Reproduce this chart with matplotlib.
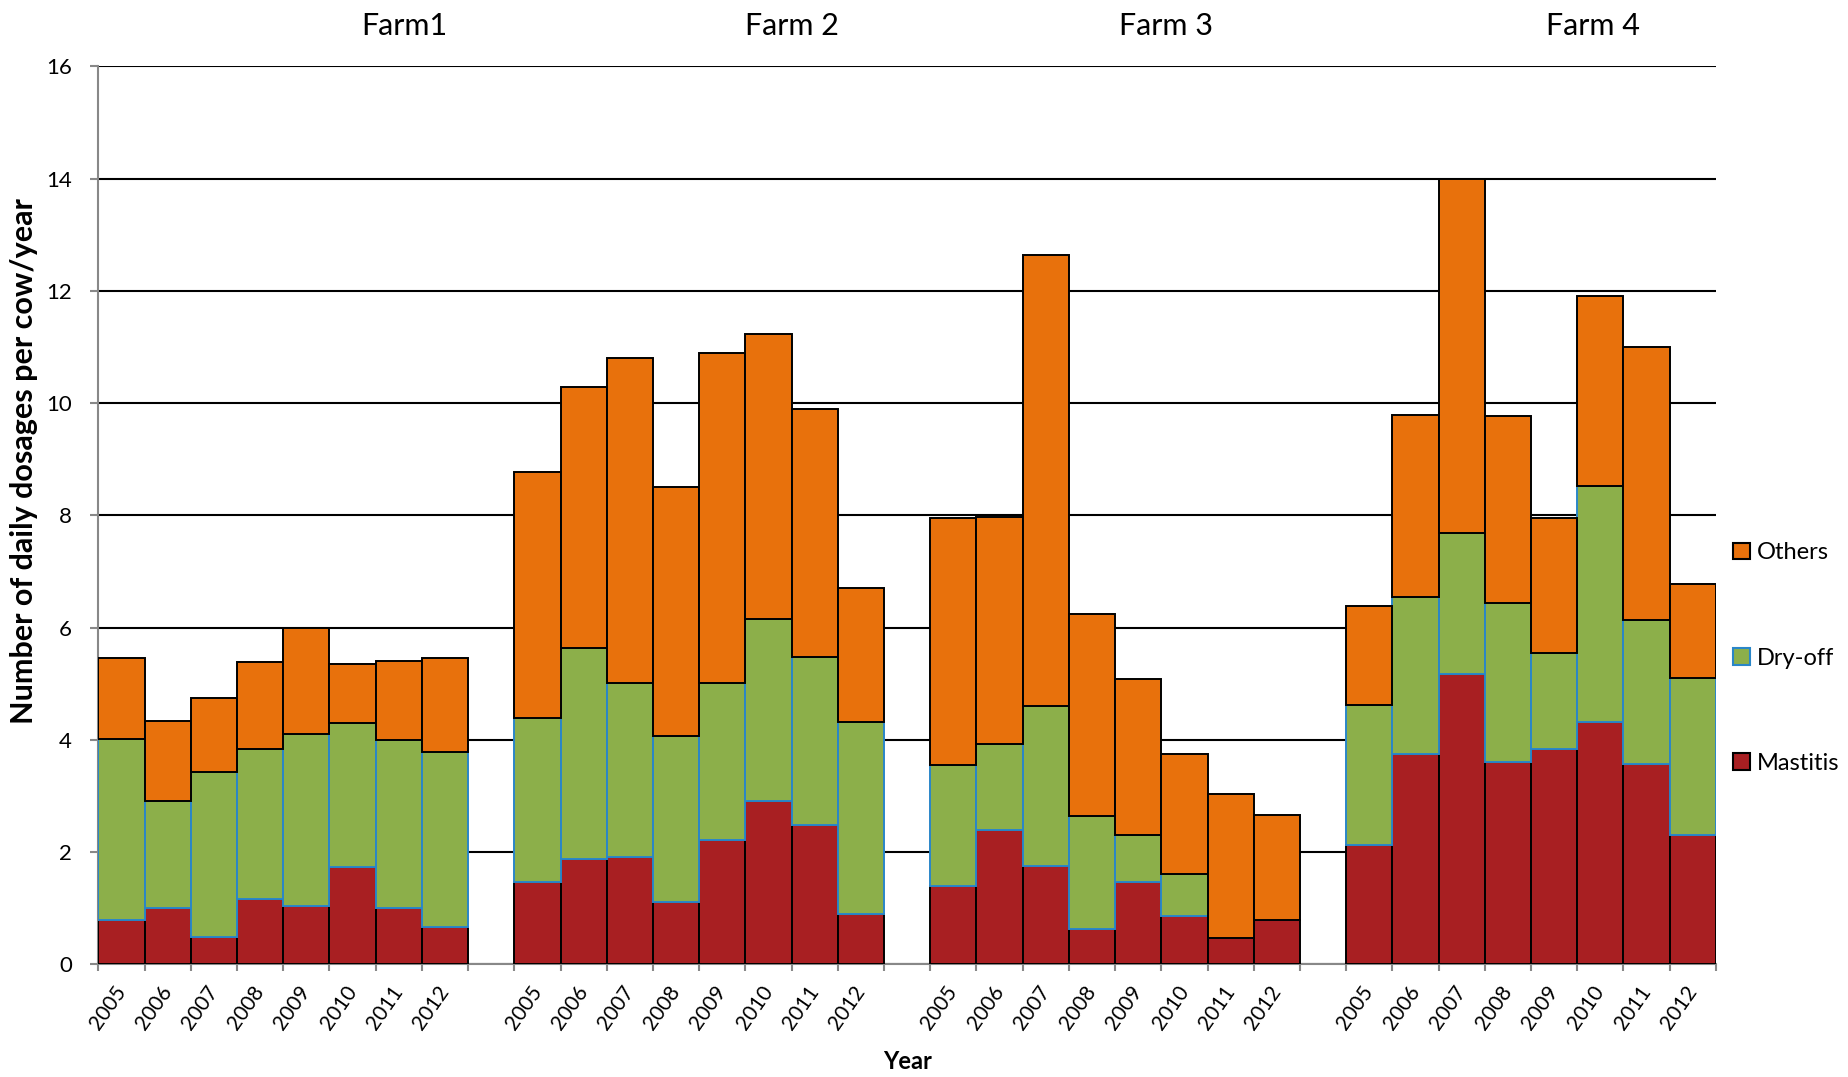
import numpy as np
import matplotlib
matplotlib.use("Agg")
from matplotlib import pyplot as plt
from matplotlib.patches import Patch

plt.rcParams['font.family'] = ['Lato', 'DejaVu Sans']

farms = ["Farm1", "Farm 2", "Farm 3", "Farm 4"]
years = ["2005", "2006", "2007", "2008", "2009", "2010", "2011", "2012"]

# daily dosages per cow per year, one row per farm
mastitis = [
    [0.80, 1.00, 0.49, 1.17, 1.04, 1.73, 1.00, 0.66],
    [1.46, 1.87, 1.92, 1.12, 2.22, 2.91, 2.48, 0.89],
    [1.39, 2.39, 1.76, 0.63, 1.46, 0.86, 0.48, 0.80],
    [2.12, 3.74, 5.18, 3.61, 3.83, 4.31, 3.57, 2.31],
]
dryoff = [
    [3.21, 1.92, 2.93, 2.67, 3.06, 2.57, 2.99, 3.12],
    [2.93, 3.76, 3.09, 2.95, 2.79, 3.24, 3.00, 3.42],
    [2.17, 1.54, 2.85, 2.01, 0.85, 0.75, 0.00, 0.00],
    [2.51, 2.80, 2.51, 2.82, 1.71, 4.22, 2.56, 2.80],
]
others = [
    [1.44, 1.41, 1.33, 1.54, 1.90, 1.06, 1.41, 1.67],
    [4.38, 4.65, 5.79, 4.44, 5.89, 5.08, 4.42, 2.39],
    [4.39, 4.04, 8.02, 3.61, 2.77, 2.13, 2.56, 1.86],
    [1.76, 3.25, 6.31, 3.34, 2.41, 3.37, 4.87, 1.67],
]

c_mast = "#a81f22"
c_dry = "#8caf4a"
c_oth = "#e8710c"
c_dry_edge = "#2a86c8"
c_axis = "#888888"

fig = plt.figure(figsize=(18.49, 10.77), dpi=100)
ax = fig.add_axes([0.0532, 0.1045, 0.8748, 0.834])

n = len(years)
xpos = []
labels = []
for f in range(len(farms)):
    x = np.arange(n) + f * (n + 1) + 0.5
    m = np.array(mastitis[f])
    d = np.array(dryoff[f])
    o = np.array(others[f])
    ax.bar(x, m, width=1.0, color=c_mast, edgecolor="black", linewidth=1.4, zorder=3)
    ax.bar(x, d, width=1.0, bottom=m, color=c_dry, edgecolor=c_dry_edge, linewidth=1.4, zorder=3)
    ax.bar(x, o, width=1.0, bottom=m + d, color=c_oth, edgecolor="black", linewidth=1.4, zorder=3)
    xpos.extend(x)
    labels.extend(years)

total_slots = len(farms) * (n + 1) - 1
ax.set_xlim(0, total_slots)
ax.set_ylim(0, 16)
ax.set_yticks(np.arange(0, 17, 2))
ax.yaxis.grid(True, color="black", linewidth=1.5, zorder=0)
ax.tick_params(axis="y", labelsize=16, color=c_axis, length=6, width=1.5, pad=13)

# ticks on the slot edges, year labels in the slot centres
ax.set_xticks(np.arange(0, total_slots + 1))
ax.set_xticklabels([])
ax.set_xticks(xpos, minor=True)
ax.set_xticklabels(labels, minor=True, rotation=55, ha="right", va="center",
                   rotation_mode="anchor", fontsize=15)
ax.tick_params(axis="x", which="major", color=c_axis, length=5, width=1.5)
ax.tick_params(axis="x", which="minor", length=0, pad=17)

for s in ["top", "right"]:
    ax.spines[s].set_visible(False)
for s in ["left", "bottom"]:
    ax.spines[s].set_color(c_axis)
    ax.spines[s].set_linewidth(1.5)

ax.text(-0.046, 0.56, "Number of daily dosages per cow/year", transform=ax.transAxes,
        rotation=90, ha="center", va="center", fontsize=22, fontweight="bold")
ax.text(17.5, -0.1075, "Year", transform=ax.get_xaxis_transform(), ha="center", va="center",
        fontsize=17, fontweight="bold")

farm_x = [6.62, 15.0, 23.1, 32.33]
for name, fx in zip(farms, farm_x):
    ax.text(fx, 1.0445, name, transform=ax.get_xaxis_transform(), ha="center", va="center", fontsize=22)

handles = [
    Patch(facecolor=c_oth, edgecolor="black", linewidth=1.5, label="Others"),
    Patch(facecolor=c_dry, edgecolor=c_dry_edge, linewidth=1.5, label="Dry-off"),
    Patch(facecolor=c_mast, edgecolor="black", linewidth=1.5, label="Mastitis"),
]
fig.legend(handles=handles, loc="center left", bbox_to_anchor=(0.9373, 0.389), frameon=False,
           fontsize=17, handlelength=0.72, handleheight=0.72, handletextpad=0.3,
           labelspacing=3.57, borderpad=0, borderaxespad=0)

fig.savefig("out.png", dpi=100)
